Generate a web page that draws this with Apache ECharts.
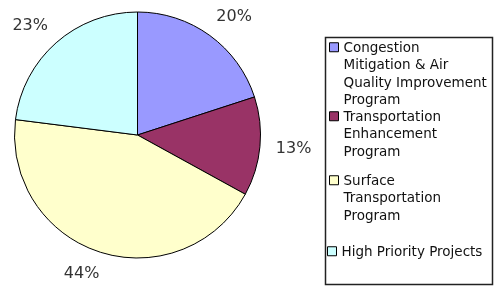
<!DOCTYPE html>
<html>
<head>
<meta charset="utf-8">
<script src="https://cdn.jsdelivr.net/npm/echarts@6/dist/echarts.min.js"></script>
<style>
  html, body { margin: 0; padding: 0; background: #fff; }
  #chart { width: 494px; height: 286px; }
</style>
</head>
<body>
<div id="chart"></div>
<script>
// funding shares (percent)
const programs = [
  'Congestion Mitigation & Air Quality Improvement Program',
  'Transportation Enhancement Program',
  'Surface Transportation Program',
  'High Priority Projects'
];
const shares = [20, 13, 44, 23];
const colors = ['#9999FF', '#993366', '#FFFFCC', '#CCFFFF'];

// legend text, broken the way the original wraps it
const legendLines = [
  ['Congestion', 'Mitigation & Air', 'Quality Improvement', 'Program'],
  ['Transportation', 'Enhancement', 'Program'],
  ['Surface', 'Transportation', 'Program'],
  ['High Priority Projects']
];

const chart = echarts.init(document.getElementById('chart'));

const lineH = 17.5;
const legendTops = [39, 108, 172, 243];
const legendLefts = [329, 329, 329, 327];

// one legend per entry so each can sit where the original puts it;
// the icon path keeps the square level with the first text line
const legends = programs.map((name, i) => {
  const h = legendLines[i].length * lineH;
  const a = lineH / 2 - 5.5;
  return {
    data: [name],
    orient: 'vertical',
    left: legendLefts[i],
    top: legendTops[i],
    padding: 0,
    selectedMode: false,
    itemWidth: 9,
    itemHeight: h,
    icon: 'path://M0 0M0 ' + h + 'M0 ' + a + 'H9V' + (a + 9) + 'H0Z',
    itemStyle: { borderColor: '#000', borderWidth: 1 },
    formatter: () => legendLines[i].join('\n'),
    textStyle: {
      fontFamily: 'DejaVu Sans',
      fontSize: 13.5,
      lineHeight: lineH,
      color: '#111'
    }
  };
});

const option = {
  animation: false,
  color: colors,
  legend: legends,
  graphic: [{
    type: 'rect',
    shape: { x: 325.5, y: 37.5, width: 167, height: 247 },
    style: { fill: 'none', stroke: '#222', lineWidth: 1.5 },
    silent: true
  }],
  series: [{
    type: 'pie',
    center: [137.5, 135],
    radius: 123,
    startAngle: 90,
    clockwise: true,
    avoidLabelOverlap: false,
    silent: true,
    data: programs.map((name, i) => ({ name: name, value: shares[i] })),
    itemStyle: { borderColor: '#000', borderWidth: 1 },
    label: {
      show: true,
      position: 'outside',
      formatter: '{c}%',
      fontFamily: 'DejaVu Sans',
      fontSize: 16,
      color: '#333',
      distanceToLabelLine: -7
    },
    labelLine: { show: false, length: 23, length2: 0 },
    emphasis: { disabled: true }
  }]
};

chart.setOption(option);

window.addEventListener('resize', () => {
  chart.resize();
});
</script>
</body>
</html>
